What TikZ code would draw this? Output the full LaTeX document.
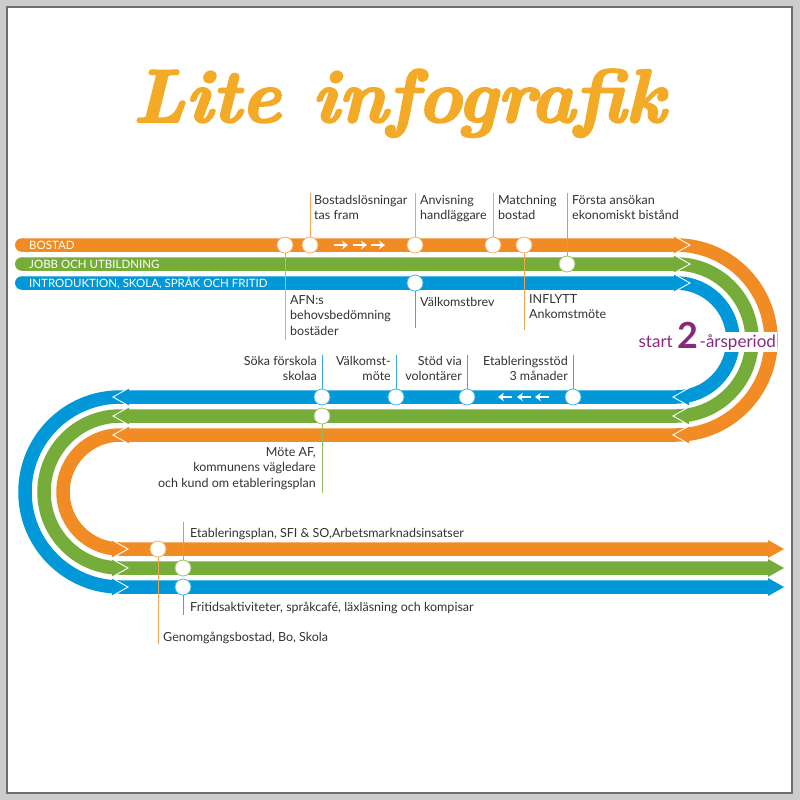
\documentclass[tikz,border=0pt]{standalone}
\usepackage{fontspec}
\newfontfamily\lato{Lato}
\newfontfamily\titlefont[BoldItalicFeatures={FakeBold=3}]{Latin Modern Roman}
\usetikzlibrary{arrows.meta}
\definecolor{orC}{RGB}{241,140,36}
\definecolor{grC}{RGB}{118,172,57}
\definecolor{blC}{RGB}{0,152,216}
\definecolor{titleC}{RGB}{243,170,38}
\definecolor{purC}{RGB}{138,40,128}
\definecolor{txtC}{RGB}{50,50,50}
\definecolor{frameC}{RGB}{204,204,204}
\definecolor{edgeC}{RGB}{110,110,110}
\newcommand{\chevhead}[4]{%
  \fill[#1] ({#2-16*(#4)},{#3-9}) -- (#2,#3) -- ({#2-16*(#4)},{#3+9}) -- cycle;
  \draw[white,line width=0.9] ({#2-16*(#4)},{#3-9}) -- (#2,#3) -- ({#2-16*(#4)},{#3+9});}
\begin{document}
\begin{tikzpicture}[x=1pt,y=-1pt,
  band/.style={line width=13.5pt},
  stn/.style={circle,fill=white,draw=#1,line width=0.8pt,minimum size=16pt,inner sep=0pt},
  leader/.style={draw=#1,line width=1pt},
  lbl/.style={font=\lato\fontsize{12.5}{15.5}\selectfont,text=txtC,inner sep=0pt,
    execute at begin node={\rule{0pt}{12pt}}},
  lblL/.style={lbl,align=left,anchor=north west},
  lblR/.style={lbl,align=right,anchor=north east},
  bandlbl/.style={font=\lato\fontsize{11.5}{12}\selectfont,text=white,inner sep=0pt,anchor=base west},
  smallarr/.style={white,line width=2.2pt,-{Stealth[length=6pt,width=8.5pt]}}]
\useasboundingbox (0,0) rectangle (800,800);
\fill[frameC] (0,0) rectangle (800,800);
\fill[white,draw=edgeC,line width=1.2pt] (7,7) rectangle (792,793);

% title
\node[font=\titlefont\fontsize{75}{75}\selectfont\bfseries\itshape,text=titleC,anchor=base,
  inner sep=0pt] (title) at (399,122) {Lite infografik};

% tracks
\fill[orC] (21.75,245) circle (6.75);
\fill[grC] (21.75,264) circle (6.75);
\fill[blC] (21.75,283) circle (6.75);
\draw[band,orC] (21.75,245) -- (676,245) arc[start angle=-90,end angle=90,radius=95] -- (120,435) arc[start angle=270,end angle=90,radius=57] -- (770,549);
\draw[band,grC] (21.75,264) -- (676,264) arc[start angle=-90,end angle=90,radius=76] -- (120,416) arc[start angle=270,end angle=90,radius=76] -- (770,568);
\draw[band,blC] (21.75,283) -- (676,283) arc[start angle=-90,end angle=90,radius=57] -- (120,397) arc[start angle=270,end angle=90,radius=95] -- (770,587);

% arrow heads with chevrons
\chevhead{orC}{690}{245}{1}
\chevhead{grC}{690}{264}{1}
\chevhead{blC}{690}{283}{1}
\chevhead{blC}{673}{397}{-1}
\chevhead{grC}{673}{416}{-1}
\chevhead{orC}{673}{435}{-1}
\chevhead{blC}{113}{397}{-1}
\chevhead{grC}{113}{416}{-1}
\chevhead{orC}{113}{435}{-1}
\chevhead{orC}{128}{549}{1}
\chevhead{grC}{128}{568}{1}
\chevhead{blC}{128}{587}{1}
\fill[orC] (768,540) -- (784,549) -- (768,558) -- cycle;
\fill[grC] (768,559) -- (784,568) -- (768,577) -- cycle;
\fill[blC] (768,578) -- (784,587) -- (768,596) -- cycle;

% band labels
\node[bandlbl] (lb1) at (29,249) {BOSTAD};
\node[bandlbl] (lb2) at (29,268) {JOBB OCH UTBILDNING};
\node[bandlbl] (lb3) at (29,287) {INTRODUKTION, SKOLA, SPRÅK OCH FRITID};

% small arrows on bands
\draw[smallarr] (334,245) -- (348,245);
\draw[smallarr] (353,245) -- (367,245);
\draw[smallarr] (371,245) -- (385,245);
\draw[smallarr] (512,397) -- (498,397);
\draw[smallarr] (531,397) -- (517,397);
\draw[smallarr] (549,397) -- (535,397);

% leader end points
\coordinate (e1) at (285,340);
\coordinate (e2) at (310,193);
\coordinate (e3) at (415,193);
\coordinate (e4) at (415,328);
\coordinate (e5) at (493,193);
\coordinate (e6) at (524,330);
\coordinate (e7) at (567,193);
\coordinate (e8) at (322,355);
\coordinate (e9) at (396,355);
\coordinate (e10) at (467,355);
\coordinate (e11) at (573,355);
\coordinate (e12) at (322,493);
\coordinate (e13) at (158,644);
\coordinate (e14) at (183,522);
\coordinate (e15) at (183,615);

% stations
\node[stn=orC!70] (s1) at (285,245) {};
\node[stn=orC!70] (s2) at (310,245) {};
\node[stn=orC!70] (s3) at (415,245) {};
\node[stn=blC!70] (s4) at (415,283) {};
\node[stn=orC!70] (s5) at (493,245) {};
\node[stn=orC!70] (s6) at (524,245) {};
\node[stn=grC!70] (s7) at (567,264) {};
\node[stn=blC!70] (s8) at (322,397) {};
\node[stn=blC!70] (s9) at (396,397) {};
\node[stn=blC!70] (s10) at (467,397) {};
\node[stn=blC!70] (s11) at (573,397) {};
\node[stn=grC!70] (s12) at (322,416) {};
\node[stn=orC!70] (s13) at (158,549) {};
\node[stn=grC!70] (s14) at (183,568) {};
\node[stn=blC!70] (s15) at (183,587) {};

% leaders
\draw[leader=orC!80] (s1) -- (e1);
\draw[leader=orC!80] (s2) -- (e2);
\draw[leader=orC!80] (s3) -- (e3);
\draw[leader=blC!80] (s4) -- (e4);
\draw[leader=orC!80] (s5) -- (e5);
\draw[leader=orC!80] (s6) -- (e6);
\draw[leader=grC!80] (s7) -- (e7);
\draw[leader=blC!80] (s8) -- (e8);
\draw[leader=blC!80] (s9) -- (e9);
\draw[leader=blC!80] (s10) -- (e10);
\draw[leader=blC!80] (s11) -- (e11);
\draw[leader=grC!80] (s12) -- (e12);
\draw[leader=orC!80] (s13) -- (e13);
\draw[leader=grC!80] (s14) -- (e14);
\draw[leader=blC!80] (s15) -- (e15);

% labels
\node[lblL] (t1) at (290,295) {AFN:s\\behovsbedömning\\bostäder};
\node[lblL] (t2) at (314,195) {Bostadslösningar\\tas fram};
\node[lblL] (t3) at (420,195) {Anvisning\\handläggare};
\node[lblL] (t4) at (420,294) {Välkomstbrev};
\node[lblL] (t5) at (498,195) {Matchning\\bostad};
\node[lblL] (t6) at (529,294) {INFLYTT\\Ankomstmöte};
\node[lblL] (t7) at (572,195) {Första ansökan\\ekonomiskt bistånd};
\node[lblR] (t8) at (317,356) {Söka förskola\\skolaa};
\node[lblR] (t9) at (391,356) {Välkomst-\\möte};
\node[lblR] (t10) at (462,356) {Stöd via\\volontärer};
\node[lblR] (t11) at (568,356) {Etableringsstöd\\3 månader};
\node[lblR] (t12) at (316,447) {Möte AF,\\kommunens vägledare\\och kund om etableringsplan};
\node[lblL] (t13) at (163,629) {Genomgångsbostad, Bo, Skola};
\node[lblL] (t14) at (190,525) {Etableringsplan, SFI \& SO,Arbetsmarknadsinsatser};
\node[lblL] (t15) at (190,599) {Fritidsaktiviteter, språkcafé, läxläsning och kompisar};

% start 2-årsperiod
\node[font=\lato\fontsize{17}{17}\selectfont,text=purC,inner sep=0pt,anchor=base east] (st1) at (673,347) {start};
\node[font=\lato\bfseries\fontsize{36}{36}\selectfont,text=purC,inner sep=0pt,anchor=base] (st2) at (687.5,348) {2};
\node[font=\lato\fontsize{17}{17}\selectfont,text=purC,fill=white,inner xsep=1.5pt,inner ysep=2pt,anchor=base west] (st3) at (698,347) {-årsperiod};
\end{tikzpicture}
\end{document}
